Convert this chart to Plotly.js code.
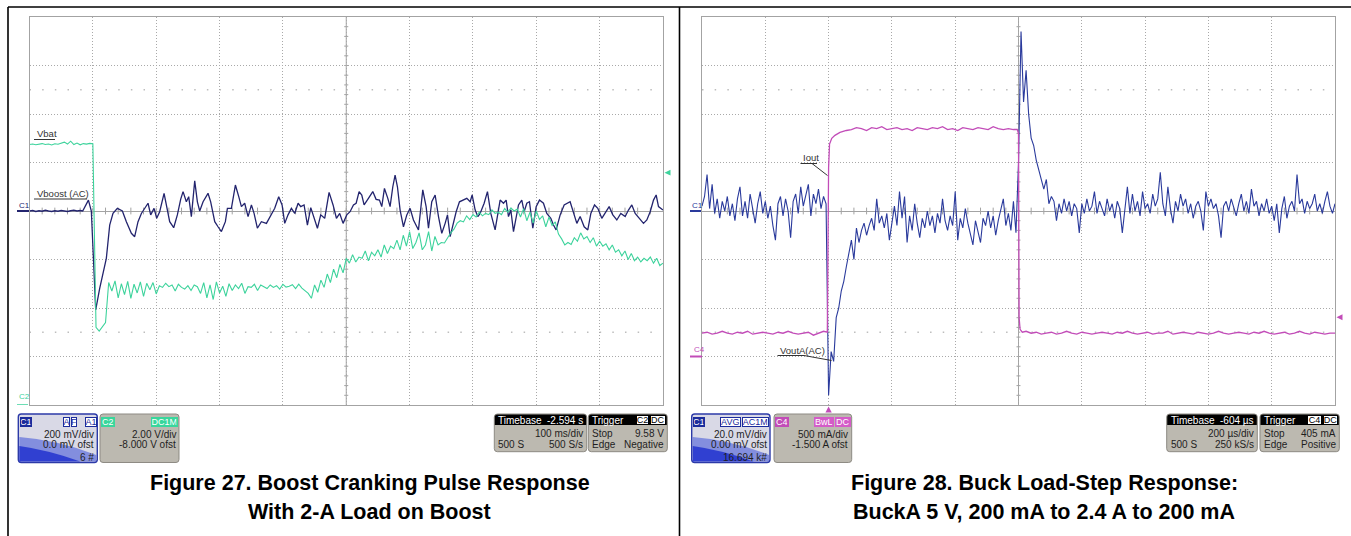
<!DOCTYPE html>
<html><head><meta charset="utf-8">
<script src="https://cdn.plot.ly/plotly-3.0.1.min.js"></script>
<style>html,body{margin:0;padding:0;background:#fff;}#chart{width:1351px;height:536px;}</style>
</head><body><div id="chart"></div>
<script>
// ---------------- Figure 27 data (Boost cranking pulse) ----------------
// C1: Vboost (AC), mV (200 mV/div); time in ms
const VBOOST_T = [0,5,10,15,20,25,30,35,40,45,50,55,60,65,70,75,80,84,89.7,93,97.6,104.5,110.8,121.3,126.6,131.8,138.7,146.6,152.9,160.8,166,171.3,176.6,181.8,187.1,191.3,196.6,200.8,205.5,212.4,216,221.3,227.6,233.4,238.7,242.4,247.6,251.3,255.5,260.8,265,268.7,274,281.8,286,292.4,297.6,302.9,309.2,312.4,318.7,325,330.3,334.5,339.7,345,350.3,354.5,359.7,366,374,381.8,387.1,393.4,398.7,402.9,408.1,413.4,418.7,424,428.2,433.4,438.7,444,449.2,454.5,459.7,466,472.9,479.2,484.5,489.7,495,500.8,506,511.4,515.6,520.3,524.5,528.2,535,541.9,547.1,552.4,556.1,560.3,565.6,569.2,573.5,577.1,580.8,585,590.3,595.6,600.8,606.1,614,620.8,626.1,629.8,635,640.3,645.6,650.8,656.1,659.8,664,669.2,673.5,678.7,685,690.3,695.6,698.7,703.5,707.7,711.3,717.7,722.9,728.2,735,738.7,742.9,748.2,752.4,756.1,759.8,764,768.2,771.9,777.1,780.8,785,789.2,794.5,799.8,805,811.3,816.6,822.9,827.1,831.3,837.7,844,853.4,858.7,864,869.2,875.6,881.3,886.1,891.9,897.1,903.4,908.7,915,920.8,927.1,933.4,940.3,945.5,950.8,956.1,962.9,969.2,974.5,979.8,985,989.2,992.9,1000];
const VBOOST_MV = [0,2,-2,1,-1,3,0,-2,1,-1,2,0,-2,1,3,0,2,0,27,45,0,-408,-319,-195,-58,-10,11,0,-44,-92,-106,-44,-10,11,32,-16,11,-30,-3,73,25,-44,-69,-16,49,80,38,59,-23,124,38,0,38,73,38,-44,-65,-85,-44,11,11,107,59,18,32,-23,25,-10,-71,-44,-51,-16,11,59,25,-51,-16,11,-10,32,18,25,-58,14,-30,-71,-16,-30,77,25,-30,-10,-51,-16,-3,25,32,80,66,25,52,80,48,45,18,93,52,18,100,148,100,4,-65,-16,11,-37,-78,87,18,-71,38,66,-23,-92,-51,-16,-106,-51,-3,38,45,52,38,66,4,-23,-10,32,80,-10,-78,-23,45,32,45,-23,4,-85,-23,25,45,-3,32,38,-71,18,45,32,-10,-30,-58,-78,-16,25,38,-3,-51,-23,-65,-78,-10,25,11,-30,-10,18,-16,-37,-10,-23,4,25,-10,-30,-51,-37,-3,45,66,18,4];
// C2: Vbat, V (2 V/div, -8 V offset); one reading every 5 ms from 0 ms
const VBAT_T0 = 0, VBAT_DT = 5;
const VBAT_V = [10.74,10.76,10.73,10.75,10.78,10.74,10.76,10.72,10.77,10.75,10.79,10.84,10.76,10.88,10.74,10.80,10.73,10.78,10.76,10.79,10.77,
3.20,3.05,3.25,3.40,5.05,
4.70,5.12,4.42,5.00,4.55,5.10,4.40,4.98,4.62,5.08,4.48,5.02,4.75,5.05,4.58,4.92,4.85,5.02,4.88,4.95,
4.70,4.98,4.85,4.78,4.92,4.72,4.95,4.88,4.60,5.05,4.42,4.95,4.35,5.08,4.62,4.90,4.48,5.00,4.72,4.95,
4.80,5.02,4.60,4.88,4.85,4.98,4.72,4.95,4.88,4.80,4.95,4.85,4.92,4.78,4.98,4.86,4.90,4.96,4.80,4.98,4.82,4.70,
4.60,4.40,4.95,4.65,5.15,4.85,5.40,5.05,5.60,5.25,5.80,5.45,6.05,
5.85,6.20,5.90,6.10,6.05,6.35,5.95,6.30,6.15,6.40,6.10,6.60,6.25,6.55,6.45,6.80,6.40,7.00,6.55,7.15,
6.45,6.70,7.10,6.40,6.60,7.15,6.35,6.95,6.60,6.70,6.68,6.90,7.10,7.25,7.50,7.60,7.55,7.80,7.65,7.85,
7.75,7.95,7.80,7.90,7.85,8.05,7.90,7.95,7.85,8.10,7.95,8.12,8.00,8.08,7.75,8.10,7.60,7.95,7.50,8.00,
7.65,7.80,7.35,7.75,7.40,7.55,7.05,6.85,6.60,6.70,6.62,6.90,6.75,7.10,6.85,6.95,6.70,6.90,6.55,6.75,
6.55,6.65,6.40,6.60,6.30,6.40,6.15,6.35,6.00,6.25,5.95,6.10,5.90,6.05,5.95,6.10,5.85,6.05,5.75,5.85];
const TRIG27_V = 9.58;

// ---------------- Figure 28 data (Buck load step) ----------------
// C1: VoutA (AC), mV (20 mV/div); one reading every 8 us from -400 us
const VOUT_T0 = -400, VOUT_DT = 8;
const VOUT_MV = [2,6,15,1,11,-1,5,-3,4,0,6,-2,3,-4,5,10,-2,4,-3,7,1,-5,3,8,-1,4,-3,2,-6,-12,3,6,-2,5,0,-11,4,7,-1,10,2,6,11,-2,7,3,9,1,6,3,
-76,-58,-62,-44,-40,-33,-29,-23,-18,-12,-20,-7,-13,-8,-5,-10,-6,-3,-8,5,-5,
-2,-7,-1,-12,-4,2,-6,8,-3,6,-13,-2,-8,3,-5,-11,-3,-7,0,-6,-2,-9,-1,-5,5,-4,-8,-2,-6,8,-12,-3,-7,1,-5,-9,-14,-4,-8,-13,-3,-6,0,-7,-2,-10,-4,1,5,-6,-1,-8,4,-9,
20,74,45,58,40,30,27,21,17,14,9,13,3,6,
4,-4,3,-1,5,0,4,-2,3,1,-9,3,-1,5,0,2,8,-1,4,1,-2,5,0,3,-3,4,1,-9,2,10,-1,7,0,4,-2,8,1,3,-1,7,2,5,16,3,-2,10,1,-5,4,0,7,2,5,-1,3,-3,2,4,0,-8,8,2,5,1,3,-2,-11,2,4,0,5,1,-2,3,7,0,4,-1,9,2,4,-2,3,0,5,-1,2,-4,3,-9,1,6,-3,2,4,0,15,3,5,-1,4,1,3,7,0,3,-1,4,8,2,-1,3];
// C4: Iout, A (500 mA/div, -1.5 A offset); time in us
const IOUT_T = [-400,-384,-368,-352,-336,-320,-304,-288,-272,-256,-240,-224,-208,-192,-176,-160,-144,-128,-112,-96,-80,-64,-48,-32,-16,
-4,0,3,10,20,36,56,
72,88,104,120,136,152,168,184,200,216,232,248,264,280,296,312,328,344,360,376,392,408,424,440,456,472,488,504,520,536,552,568,584,
596,600,602,605,612,
624,640,656,672,688,704,720,736,752,768,784,800,816,832,848,864,880,896,912,928,944,960,976,992,1008,1024,1040,1056,1072,1088,1104,1120,1136,1152,1168,1184,1200,1216,1232,1248,1264,1280,1296,1312,1328,1344,1360,1376,1392,1408,1424,1440,1456,1472,1488,1504,1520,1536,1552,1568,1584,1600];
const IOUT_A = [0.24,0.25,0.23,0.24,0.26,0.24,0.23,0.25,0.24,0.26,0.23,0.24,0.25,0.24,0.23,0.25,0.24,0.26,0.24,0.23,0.24,0.25,0.22,0.24,0.26,
0.25,1.95,2.19,2.25,2.28,2.31,2.33,
2.34,2.36,2.35,2.33,2.36,2.35,2.37,2.34,2.35,2.36,2.34,2.35,2.33,2.36,2.35,2.34,2.36,2.35,2.37,2.34,2.35,2.33,2.36,2.35,2.34,2.36,2.35,2.34,2.37,2.35,2.34,2.35,2.34,
2.34,2.30,0.40,0.28,0.25,
0.26,0.24,0.25,0.23,0.24,0.25,0.23,0.24,0.26,0.24,0.23,0.25,0.24,0.23,0.24,0.25,0.24,0.23,0.25,0.24,0.26,0.24,0.23,0.24,0.25,0.23,0.24,0.24,0.26,0.23,0.24,0.25,0.24,0.23,0.25,0.24,0.23,0.24,0.26,0.24,0.23,0.24,0.25,0.24,0.23,0.25,0.24,0.26,0.24,0.23,0.24,0.25,0.23,0.24,0.26,0.24,0.23,0.25,0.24,0.23,0.24,0.24];
const TRIG28_A = 0.405;

// ---------------- text ----------------
const CAPTION27 = ['Figure 27. Boost Cranking Pulse Response', 'With 2-A Load on Boost'];
const CAPTION28 = ['Figure 28. Buck Load-Step Response:', 'BuckA 5 V, 200 mA to 2.4 A to 200 mA'];

// ---------------- helpers ----------------
const W = 1351, H = 536;
const PX = x => x / W, PY = y => 1 - y / H;
const FONT = 'Liberation Sans, Arial, Helvetica, sans-serif';
const GRID = '#a9a9a9', AXL = '#a3a3a3';
const C_NAVY = '#23246e', C_TEAL = '#3dd39c', C_BLUE = '#2a3a9c', C_MAG = '#c24cb8';

const vbatT = VBAT_V.map((_, i) => VBAT_T0 + i * VBAT_DT);
const voutT = VOUT_MV.map((_, i) => VOUT_T0 + i * VOUT_DT);

const data = [
  {x: VBOOST_T, y: VBOOST_MV, xaxis: 'x', yaxis: 'y', mode: 'lines', line: {color: C_NAVY, width: 1.3}, hoverinfo: 'skip'},
  {x: vbatT, y: VBAT_V, xaxis: 'x', yaxis: 'y2', mode: 'lines', line: {color: C_TEAL, width: 1.1}, hoverinfo: 'skip'},
  {x: voutT, y: VOUT_MV, xaxis: 'x2', yaxis: 'y3', mode: 'lines', line: {color: C_BLUE, width: 1.1}, hoverinfo: 'skip'},
  {x: IOUT_T, y: IOUT_A, xaxis: 'x2', yaxis: 'y4', mode: 'lines', line: {color: C_MAG, width: 1.3}, hoverinfo: 'skip'}
];

const shapes = [];
const annotations = [];
function P(x, y) { return PX(x).toFixed(5) + ',' + PY(y).toFixed(5); }
function rr(x0, y0, x1, y1, rt, rb) {
  return 'M' + P(x0 + rt, y0) + ' L' + P(x1 - rt, y0) + ' Q' + P(x1, y0) + ' ' + P(x1, y0 + rt) +
    ' L' + P(x1, y1 - rb) + ' Q' + P(x1, y1) + ' ' + P(x1 - rb, y1) + ' L' + P(x0 + rb, y1) +
    ' Q' + P(x0, y1) + ' ' + P(x0, y1 - rb) + ' L' + P(x0, y0 + rt) + ' Q' + P(x0, y0) + ' ' + P(x0 + rt, y0) + ' Z';
}
function pline(x0, y0, x1, y1, color, width) {
  shapes.push({type: 'line', xref: 'paper', yref: 'paper', x0: PX(x0), y0: PY(y0), x1: PX(x1), y1: PY(y1), line: {color: color, width: width}});
}
function text(t, x, y, opts) {
  opts = opts || {};
  annotations.push({xref: 'paper', yref: 'paper', x: PX(x), y: PY(y), text: t, showarrow: false,
    xanchor: opts.xa || 'left', yanchor: 'middle',
    font: {family: FONT, size: opts.size || 10, color: opts.color || '#1e1e1e'}});
}
function chip(t, x0, x1, yc, bg, fg, border) {
  annotations.push({xref: 'paper', yref: 'paper', x: PX((x0 + x1) / 2), y: PY(yc), text: t, showarrow: false,
    xanchor: 'center', yanchor: 'middle', width: x1 - x0 - 2, height: 8, borderpad: 0,
    bgcolor: bg, bordercolor: border || bg, borderwidth: 1, font: {family: FONT, size: 9, color: fg}});
}

// page frame
pline(8, 7, 1351, 7, '#000', 1.6);
pline(8, 7, 8, 536, '#000', 1.6);
pline(679.5, 7, 679.5, 536, '#000', 1.6);

// graticule details for both screens
function graticule(xr, yr, xc, xMin, xMax, xStep, yMin, yMax, yStep, xTickHalf, yTickHalf, dotY) {
  shapes.push({type: 'line', xref: xr, yref: 'paper', x0: xc, x1: xc, y0: PY(405), y1: PY(17), line: {color: AXL, width: 1}, layer: 'below'});
  for (let v = yMin + yStep; v < yMax; v += yStep) {
    shapes.push({type: 'line', xref: xr, yref: yr, x0: xc - xTickHalf, x1: xc + xTickHalf, y0: v, y1: v, line: {color: AXL, width: 1}, layer: 'below'});
  }
  for (let v = xMin + xStep; v < xMax; v += xStep) {
    shapes.push({type: 'line', xref: xr, yref: yr, x0: v, x1: v, y0: -yTickHalf, y1: yTickHalf, line: {color: AXL, width: 1}, layer: 'below'});
  }
  dotY.forEach(v => shapes.push({type: 'line', xref: xr, yref: yr, x0: xMin, x1: xMax, y0: v, y1: v,
    line: {color: '#bdbdbd', width: 1.5, dash: '1.5px,11.17px'}, layer: 'below'}));
}
graticule('x', 'y', 500, 0, 1000, 20, -800, 800, 40, 3.2, 14, [500, -500]);
graticule('x2', 'y3', 600, -400, 1600, 40, -80, 80, 4, 6.3, 1.4, [50, -50]);

// channel markers, left side
pline(17, 211, 29, 211, C_NAVY, 2);
text('C1', 16.5, 205.5, {size: 8, color: C_NAVY});
text('C2', 17, 396.5, {size: 8, color: C_TEAL});
shapes.push({type: 'line', xref: 'paper', yref: 'y2', x0: PX(17), x1: PX(28), y0: 0, y1: 0, line: {color: C_TEAL, width: 1.5}});
pline(690, 211, 701, 211, C_BLUE, 2);
text('C1', 689.5, 205, {size: 8, color: C_BLUE});
shapes.push({type: 'line', xref: 'paper', yref: 'y4', x0: PX(690), x1: PX(702), y0: 0, y1: 0, line: {color: C_MAG, width: 2}});
text('C4', 692, 349.5, {size: 8, color: C_MAG});

// trigger markers
shapes.push({type: 'path', xref: 'paper', yref: 'y2', fillcolor: C_TEAL, line: {width: 0},
  path: 'M' + PX(664.5) + ',' + TRIG27_V + ' L' + PX(670.5) + ',' + (TRIG27_V + 0.12) + ' L' + PX(670.5) + ',' + (TRIG27_V - 0.12) + ' Z'});
shapes.push({type: 'path', xref: 'paper', yref: 'y4', fillcolor: C_MAG, line: {width: 0},
  path: 'M' + PX(1336.5) + ',' + TRIG28_A + ' L' + PX(1342.5) + ',' + (TRIG28_A + 0.03) + ' L' + PX(1342.5) + ',' + (TRIG28_A - 0.03) + ' Z'});
shapes.push({type: 'path', xref: 'x2', yref: 'paper', fillcolor: C_MAG, line: {width: 0},
  path: 'M0,' + PY(406.5) + ' L-10,' + PY(412.5) + ' L10,' + PY(412.5) + ' Z'});

// trace labels
text('Vbat', 34.5, 133.5, {size: 9.5, color: '#333'});
pline(34, 139.5, 55, 139.5, '#333', 1);
text('Vboost (AC)', 34.5, 193.5, {size: 9.5, color: '#333'});
pline(34, 199, 87, 199, '#333', 1);
text('Iout', 801, 157.5, {size: 9.5, color: '#333'});
pline(800.5, 163.5, 817, 163.5, '#333', 1);
pline(812, 163.5, 827.5, 175.5, '#333', 1);
text('VoutA(AC)', 777.5, 350.5, {size: 9.5, color: '#333'});
pline(777.5, 355.5, 804, 355.5, '#333', 1);
pline(804, 355.5, 831.5, 360.5, '#333', 1);

// info boxes
function pathShape(path, fill, lineColor, lineWidth) {
  shapes.push({type: 'path', xref: 'paper', yref: 'paper', path: path, fillcolor: fill,
    line: lineColor ? {color: lineColor, width: lineWidth} : {width: 0}});
}
function chanBox(x0, x1, chipTxt, tags, rows, blue) {
  const y0 = 414, y1 = 462.5;
  if (blue) {
    pathShape(rr(x0, y0, x1, y1, 3, 3), '#d9d9e6', '#2c3aa8', 1.4);
    pathShape('M' + P(x0 + 1, 437) + ' Q' + P(x0 + 40, 440) + ' ' + P(x1 - 1, 455) + ' L' + P(x1 - 1, y1 - 1) + ' L' + P(x0 + 1, y1 - 1) + ' Z', 'rgba(60,80,215,0.55)');
    pathShape('M' + P(x0 + 1, 446) + ' Q' + P(x0 + 30, 450) + ' ' + P(x0 + 62, y1 - 1) + ' L' + P(x0 + 1, y1 - 1) + ' Z', 'rgba(28,45,205,0.8)');
    chip(chipTxt, x0 + 1.5, x0 + 13 + (chipTxt.length > 2 ? 3 : 0), 421.5, '#1c2c9c', '#ffffff');
  } else {
    pathShape(rr(x0, y0, x1, y1, 3, 3), '#bcb9b0', '#8d8a83', 1);
    chip(chipTxt, x0 + 1.5, x0 + 15, 421.5, tags.chipColor, '#ffffff');
  }
  tags.list.forEach(t => chip(t[0], t[1], t[2], 421.5, t[3], t[4], t[5]));
  const ys = [434, 444.3, 457.3];
  rows.forEach((r, i) => text(r, x1 - 1.5, ys[i], {xa: 'right'}));
}
function infoBox(x0, x1, head, headR, rows, chips) {
  const y0 = 414, y1 = 451.7;
  pathShape(rr(x0, y0, x1, y1, 3, 3), '#bcb9b0', '#8d8a83', 1);
  pathShape(rr(x0 + 0.5, y0 + 0.5, x1 - 0.5, 425, 2.5, 0), '#000000');
  text(head, x0 + 2, 420, {color: '#ffffff'});
  if (headR) text(headR, x1 - 1.5, 420, {color: '#ffffff', xa: 'right'});
  (chips || []).forEach(c => chip(c[0], c[1], c[2], 420, '#ffffff', '#000000', '#000000'));
  rows.forEach((r, i) => {
    const y = i === 0 ? 433.3 : 444.3;
    if (r[0]) text(r[0], x0 + 2, y);
    if (r[1]) text(r[1], x1 - 1.5, y, {xa: 'right'});
  });
}

// Figure 27 boxes
chanBox(18.3, 97.3, 'C1', {list: [['A', 63, 70, '#ffffff', '#1c2c9c', '#1c2c9c'], ['F', 71, 77, '#ffffff', '#1c2c9c', '#1c2c9c'], ['A1', 84.5, 96.5, '#ffffff', '#1c2c9c', '#1c2c9c']]},
  ['200 mV/div', '0.0 mV ofst', '6 #'], true);
chanBox(100, 179, 'C2', {chipColor: '#3ad69c', list: [['DC1M', 151.5, 178, '#3ad69c', '#ffffff']]},
  ['2.00 V/div', '-8.000 V ofst'], false);
infoBox(494.3, 586.7, 'Timebase', '-2.594 s', [['', '100 ms/div'], ['500 S', '500 S/s']]);
infoBox(588.3, 667.3, 'Trigger', null, [['Stop', '9.58 V'], ['Edge', 'Negative']], [['C2', 636, 649], ['DC', 650, 665.5]]);

// Figure 28 boxes
chanBox(691.7, 770, 'C1', {list: [['AVG', 720.5, 741, '#ffffff', '#1c2c9c', '#1c2c9c'], ['AC1M', 742.5, 769, '#ffffff', '#1c2c9c', '#1c2c9c']]},
  ['20.0 mV/div', '0.00 mV ofst', '16.694 k#'], true);
chanBox(774, 851.7, 'C4', {chipColor: '#c24cb8', list: [['BwL', 814, 833.5, '#d45cc8', '#ffffff'], ['DC', 835, 850.5, '#d45cc8', '#ffffff']]},
  ['500 mA/div', '-1.500 A ofst'], false);
infoBox(1166.7, 1257.3, 'Timebase', '-604 µs', [['', '200 µs/div'], ['500 S', '250 kS/s']]);
infoBox(1260, 1339.3, 'Trigger', null, [['Stop', '405 mA'], ['Edge', 'Positive']], [['C4', 1306.5, 1321.5], ['DC', 1322.5, 1337.5]]);

// captions
function caption(lines, xc) {
  lines.forEach((l, i) => annotations.push({xref: 'paper', yref: 'paper', x: PX(xc), y: PY(i === 0 ? 483 : 511.5),
    text: '<b>' + l + '</b>', showarrow: false, xanchor: 'center', yanchor: 'middle',
    font: {family: FONT, size: 21.5, color: '#000'}}));
}
caption(CAPTION27, 369.5);
caption(CAPTION28, 1044);

function xAxis(dom, range, dtick, anchor) {
  return {domain: dom, range: range, dtick: dtick, tick0: 0, showgrid: true, gridcolor: GRID, griddash: '1px,2px', gridwidth: 1,
    showticklabels: false, ticks: '', zeroline: false, showline: true, mirror: true, linecolor: AXL, linewidth: 1, anchor: anchor, fixedrange: true};
}
function yAxis(dom, range, dtick, anchor) {
  return {domain: dom, range: range, dtick: dtick, tick0: 0, showgrid: true, gridcolor: GRID, griddash: '1px,2px', gridwidth: 1,
    showticklabels: false, ticks: '', zeroline: true, zerolinecolor: AXL, zerolinewidth: 1, showline: true, mirror: true,
    linecolor: AXL, linewidth: 1, anchor: anchor, fixedrange: true};
}
const yDom = [PY(405), PY(17)];
const layout = {
  width: W, height: H, margin: {l: 0, r: 0, t: 0, b: 0, pad: 0},
  paper_bgcolor: '#ffffff', plot_bgcolor: '#ffffff', showlegend: false,
  font: {family: FONT},
  xaxis: xAxis([PX(29.5), PX(663)], [0, 1000], 100, 'y'),
  yaxis: yAxis(yDom, [-800, 800], 200, 'x'),
  yaxis2: {overlaying: 'y', anchor: 'x', range: [0, 16], visible: false, fixedrange: true},
  xaxis2: xAxis([PX(702), PX(1335)], [-400, 1600], 200, 'y3'),
  yaxis3: yAxis(yDom, [-80, 80], 20, 'x2'),
  yaxis4: {overlaying: 'y3', anchor: 'x2', range: [-0.5, 3.5], visible: false, fixedrange: true},
  shapes: shapes,
  annotations: annotations
};
Plotly.newPlot('chart', data, layout, {staticPlot: true, displayModeBar: false});
</script></body></html>
